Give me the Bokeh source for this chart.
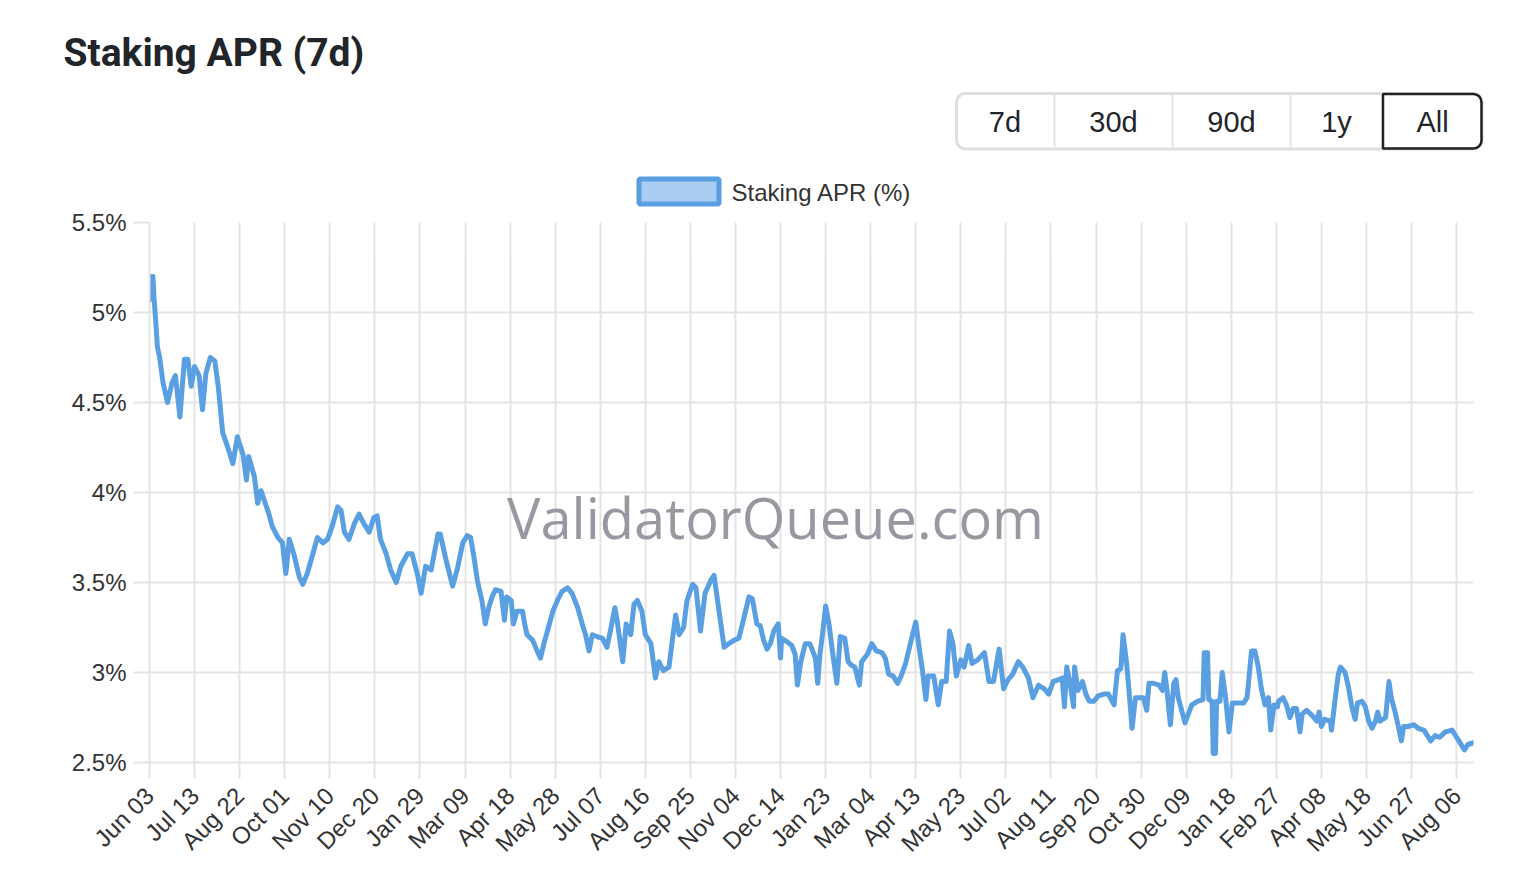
import math
from bokeh.plotting import figure
from bokeh.models import Range1d, FixedTicker
from bokeh.models.glyphs import Quad
from bokeh.layouts import column
from bokeh.core.properties import value
from bokeh.embed import file_html
from bokeh.resources import INLINE

# ---------------- data (day offset from Jun 03, APR %) ----------------
days_1 = [0, 1, 3, 4, 5, 7, 9, 12, 16, 20, 23, 27, 31, 34, 37, 40, 44, 47, 50, 54,
          58, 61, 65, 69, 74, 78, 83, 86, 88, 93, 96, 99, 106, 109, 114, 118, 121, 124, 128, 133,
          136, 140, 145, 149, 154, 158, 162, 167, 170, 173, 177, 182, 186, 190, 195, 199, 202, 205, 210, 214,
          219, 223, 229, 233, 238, 241, 245, 250, 256, 258, 263, 269, 273, 278, 282]
apr_1 = [5.07, 5.20, 5.20, 5.08, 5.00, 4.81, 4.75, 4.61, 4.50, 4.61, 4.65, 4.42, 4.74, 4.74, 4.59, 4.70, 4.65, 4.46, 4.66, 4.75,
         4.73, 4.59, 4.33, 4.26, 4.16, 4.31, 4.21, 4.07, 4.20, 4.09, 3.94, 4.01, 3.88, 3.81, 3.75, 3.72, 3.55, 3.74, 3.66, 3.53,
         3.49, 3.55, 3.66, 3.75, 3.72, 3.74, 3.81, 3.92, 3.90, 3.78, 3.74, 3.83, 3.88, 3.83, 3.78, 3.86, 3.87, 3.74, 3.66, 3.57,
         3.50, 3.59, 3.66, 3.66, 3.54, 3.44, 3.59, 3.57, 3.77, 3.77, 3.63, 3.48, 3.57, 3.72, 3.76]

days_2 = [285, 288, 291, 295, 298, 301, 304, 307, 312, 315, 317, 321, 323, 326, 331, 333, 335, 340, 344, 347,
          350, 354, 358, 362, 366, 371, 375, 380, 384, 387, 390, 393, 397, 402, 406, 409, 413, 415, 420, 423,
          427, 430, 433, 437, 440, 445, 449, 452, 456, 461, 464, 467, 470, 474, 477, 482, 485, 489, 493, 498,
          501, 505, 510, 514, 519, 523, 527, 532, 535, 539]
apr_2 = [3.75, 3.64, 3.51, 3.40, 3.27, 3.36, 3.42, 3.46, 3.45, 3.29, 3.42, 3.40, 3.27, 3.34, 3.34, 3.27, 3.21, 3.18, 3.12, 3.08,
         3.16, 3.25, 3.34, 3.40, 3.45, 3.47, 3.44, 3.36, 3.27, 3.21, 3.12, 3.21, 3.20, 3.19, 3.14, 3.23, 3.36, 3.29, 3.06, 3.27,
         3.21, 3.38, 3.40, 3.34, 3.21, 3.16, 2.97, 3.06, 3.01, 3.03, 3.18, 3.32, 3.21, 3.25, 3.40, 3.49, 3.47, 3.23, 3.44, 3.51,
         3.54, 3.36, 3.14, 3.16, 3.18, 3.19, 3.29, 3.42, 3.41, 3.27]

days_3 = [542, 545, 548, 551, 554, 558, 560, 561, 566, 570, 573, 575, 578, 582, 586, 591, 593, 595, 598, 600,
          603, 606, 610, 613, 617, 620, 623, 626, 630, 632, 637, 641, 645, 650, 653, 656, 660, 664, 667, 671,
          676, 680, 683, 686, 689, 691, 696, 700, 703, 707, 710, 713, 716, 720, 723, 727, 730, 735, 741, 745,
          749, 754, 758, 762, 766, 771, 775, 780, 784, 789]
apr_3 = [3.26, 3.18, 3.13, 3.16, 3.23, 3.27, 3.08, 3.19, 3.17, 3.15, 3.10, 2.93, 3.06, 3.16, 3.16, 3.08, 2.94, 3.10, 3.25, 3.37,
         3.27, 3.12, 2.94, 3.20, 3.19, 3.06, 3.04, 3.03, 2.93, 3.06, 3.10, 3.16, 3.12, 3.11, 3.08, 2.99, 2.98, 2.94, 2.98, 3.05,
         3.18, 3.28, 3.14, 3.01, 2.85, 2.98, 2.98, 2.82, 2.95, 2.95, 3.23, 3.16, 2.98, 3.07, 3.03, 3.15, 3.05, 3.07, 3.11, 2.95,
         2.95, 3.13, 2.91, 2.96, 2.99, 3.06, 3.03, 2.97, 2.86, 2.93]

days_4 = [791, 794, 798, 802, 807, 810, 812, 814, 817, 820, 821, 824, 828, 831, 834, 838, 842, 847, 851, 856,
          859, 862, 864, 867, 869, 872, 875, 879, 882, 885, 887, 891, 896, 899, 901, 903, 906, 909, 911, 913,
          916, 919, 922, 925, 930, 935, 936, 939, 940, 943, 944, 946, 947, 950, 952, 955, 958, 961, 965, 971,
          974, 975, 978, 981, 984, 987, 990, 993, 995, 998]
apr_4 = [2.92, 2.91, 2.88, 2.95, 2.96, 2.97, 2.81, 3.03, 2.94, 2.81, 3.03, 2.90, 2.95, 2.88, 2.84, 2.84, 2.87, 2.88, 2.88, 2.82,
         3.01, 3.02, 3.21, 3.06, 2.92, 2.69, 2.86, 2.86, 2.86, 2.79, 2.94, 2.94, 2.93, 2.90, 3.00, 2.90, 2.71, 2.94, 2.96, 2.86,
         2.79, 2.72, 2.77, 2.82, 2.84, 2.85, 3.11, 3.11, 2.85, 2.84, 2.55, 2.55, 2.84, 2.84, 3.00, 2.86, 2.67, 2.83, 2.83, 2.83,
         2.86, 2.92, 3.12, 3.12, 3.03, 2.90, 2.82, 2.86, 2.68, 2.82]

days_5 = [1001, 1002, 1006, 1009, 1012, 1015, 1018, 1021, 1023, 1027, 1032, 1036, 1038, 1040, 1043, 1048, 1049, 1052, 1055, 1057,
          1061, 1064, 1067, 1070, 1072, 1076, 1079, 1082, 1085, 1088, 1090, 1092, 1097, 1100, 1102, 1105, 1108, 1111, 1113, 1117,
          1122, 1126, 1131, 1134, 1137, 1141, 1145, 1150, 1156, 1159, 1163, 1167, 1170, 1175]
apr_5 = [2.81, 2.84, 2.86, 2.82, 2.75, 2.80, 2.80, 2.67, 2.77, 2.79, 2.76, 2.73, 2.78, 2.70, 2.74, 2.73, 2.68, 2.84, 2.99, 3.03,
         3.00, 2.92, 2.81, 2.74, 2.83, 2.84, 2.81, 2.73, 2.69, 2.73, 2.78, 2.73, 2.75, 2.95, 2.86, 2.79, 2.71, 2.62, 2.70, 2.70,
         2.71, 2.69, 2.68, 2.65, 2.62, 2.65, 2.64, 2.67, 2.68, 2.65, 2.61, 2.57, 2.60, 2.61]

x_tick_days = [0, 40, 80, 120, 160, 200, 240, 280, 320, 360, 400, 440, 480, 520, 560,
               600, 640, 680, 720, 760, 800, 840, 880, 920, 960, 1000, 1040, 1080, 1120, 1160]
x_tick_labels = ["Jun 03", "Jul 13", "Aug 22", "Oct 01", "Nov 10", "Dec 20", "Jan 29", "Mar 09",
                 "Apr 18", "May 28", "Jul 07", "Aug 16", "Sep 25", "Nov 04", "Dec 14", "Jan 23",
                 "Mar 04", "Apr 13", "May 23", "Jul 02", "Aug 11", "Sep 20", "Oct 30", "Dec 09",
                 "Jan 18", "Feb 27", "Apr 08", "May 18", "Jun 27", "Aug 06"]
y_ticks = [2.5, 3, 3.5, 4, 4.5, 5, 5.5]
y_tick_labels = ["2.5%", "3%", "3.5%", "4%", "4.5%", "5%", "5.5%"]

range_buttons = ["7d", "30d", "90d", "1y", "All"]
selected_button = "All"
title_text = "Staking APR (7d)"
legend_text = "Staking APR (%)"
watermark_text = "ValidatorQueue.com"

days = days_1 + days_2 + days_3 + days_4 + days_5
apr = apr_1 + apr_2 + apr_3 + apr_4 + apr_5

# ---------------- layout constants ----------------
W = 1524
HEAD_H = 207
BL, BR, BT, BB = 149, 51, 15, 112
MAIN_H = BT + 540 + BB
TEXT_COLOR = "#212529"
LINE_COLOR = "#5a9fe2"
GRID_COLOR = "#e4e4e4"
FONT = "Liberation Sans"

has_radius = "border_radius" in Quad.properties()

def rad(r):
    return {"border_radius": r} if has_radius else {}

def no_align(fig):
    if "frame_align" in fig.properties():
        fig.frame_align = False

# ---------------- header (title, range buttons, legend) ----------------
header = figure(width=W, height=HEAD_H, x_range=Range1d(0, W), y_range=Range1d(HEAD_H, 0),
                toolbar_location=None, output_backend="svg", x_axis_location=None,
                y_axis_location=None, min_border=0, title=None)
header.grid.visible = False
header.outline_line_color = None
no_align(header)

header.text(x=[63], y=[52], text=[title_text], text_font=value("Roboto"),
            text_font_size="39px", text_font_style="bold", text_color=TEXT_COLOR,
            text_align="left", text_baseline="alphabetic")

btn_edges = [955, 1054, 1172, 1290, 1382, 1482]
btn_top, btn_bot = 93, 148.5
header.quad(left=[btn_edges[0] + 1], right=[btn_edges[-1] - 0.5], top=[btn_top], bottom=[btn_bot],
            fill_color="white", line_color="#dedede", line_width=3, **rad(9))
header.segment(x0=btn_edges[1:-1], y0=[btn_top + 1.5] * 4, x1=btn_edges[1:-1], y1=[btn_bot - 1.5] * 4,
               line_color="#e4e4e4", line_width=2)
sel = range_buttons.index(selected_button)
header.quad(left=[btn_edges[sel] + 0.5], right=[btn_edges[sel + 1] - 1], top=[btn_top + 0.5], bottom=[btn_bot - 0.5],
            fill_alpha=0, line_color="#222222", line_width=2.5, **rad((0, 8, 8, 0)))
btn_centers = [(btn_edges[i] + btn_edges[i + 1]) / 2 for i in range(len(range_buttons))]
header.text(x=btn_centers, y=[121] * len(range_buttons), text=range_buttons,
            text_font=value(FONT), text_font_size="29px", text_color=TEXT_COLOR,
            text_align="center", text_baseline="alphabetic")

header.quad(left=[638.5], right=[718.5], top=[178.5], bottom=[203.5],
            fill_color="#aacdf2", line_color=LINE_COLOR, line_width=5)
header.text(x=[731], y=[191.5], text=[legend_text], text_font=value(FONT),
            text_font_size="24px", text_color="#333333",
            text_align="left", text_baseline="alphabetic")

# ---------------- main chart ----------------
p = figure(width=W, height=MAIN_H, x_range=Range1d(days[0], days[-1]), y_range=Range1d(y_ticks[0], y_ticks[-1]),
           toolbar_location=None, output_backend="svg", title=None,
           min_border_left=BL, min_border_right=BR, min_border_top=BT, min_border_bottom=BB)
p.outline_line_color = None
p.background_fill_color = "white"
no_align(p)

xt = FixedTicker(ticks=x_tick_days)
yt = FixedTicker(ticks=y_ticks)
p.xaxis.ticker = xt
p.xgrid.ticker = xt
p.yaxis.ticker = yt
p.ygrid.ticker = yt
p.xaxis.major_label_overrides = dict(zip(x_tick_days, x_tick_labels))
p.yaxis.major_label_overrides = dict(zip(y_ticks, y_tick_labels))
p.xaxis.major_label_orientation = math.pi / 4

for ax in (p.xaxis[0], p.yaxis[0]):
    ax.axis_line_color = GRID_COLOR
    ax.axis_line_width = 2
    ax.major_tick_line_color = GRID_COLOR
    ax.major_tick_line_width = 2
    ax.major_tick_out = 16
    ax.major_tick_in = 0
    ax.minor_tick_line_color = None
    ax.major_label_text_font = FONT
    ax.major_label_text_font_size = "24px"
    ax.major_label_text_color = "#333333"
p.xaxis.major_label_standoff = 13
p.yaxis.major_label_standoff = 7

for g in (p.xgrid[0], p.ygrid[0]):
    g.grid_line_color = GRID_COLOR
    g.grid_line_width = 2

# watermark placed by screen position converted through the ranges
frame_w = W - BL - BR
frame_h = MAIN_H - BT - BB
wm_sx, wm_sy = 775 - BL, 516 - HEAD_H - BT
wm_x = days[0] + wm_sx / frame_w * (days[-1] - days[0])
wm_y = y_ticks[-1] - wm_sy / frame_h * (y_ticks[-1] - y_ticks[0])
p.text(x=[wm_x], y=[wm_y], text=[watermark_text], text_font=value("Open Sans"),
       text_font_size="56px", text_color="#92929c", text_alpha=0.95,
       text_align="center", text_baseline="alphabetic")

p.line(days, apr, line_color=LINE_COLOR, line_width=5, line_join="round", line_cap="round")

layout = column(header, p, spacing=0)
open("out.html", "w").write(file_html(layout, INLINE))
